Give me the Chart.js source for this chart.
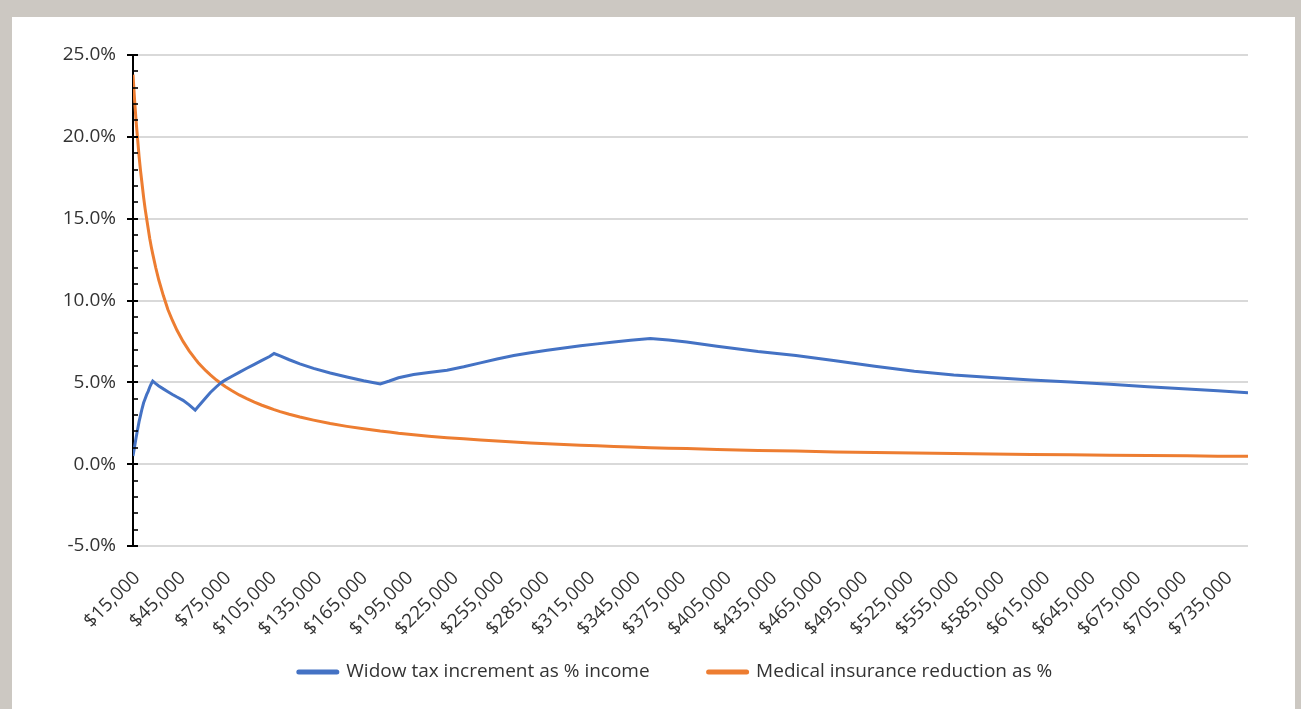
<!DOCTYPE html>
<html>
<head>
<meta charset="utf-8">
<script src="https://cdn.jsdelivr.net/npm/chart.js@4.4.1/dist/chart.umd.min.js"></script>
<style>
  html, body { margin: 0; padding: 0; background: #ccc8c2; width: 1301px; height: 709px; overflow: hidden; }
  #panel { position: absolute; left: 12px; top: 17px; width: 1283px; height: 692px; background: #ffffff; }
  #wrap { position: absolute; left: 0; top: 0; width: 1301px; height: 709px; }
</style>
</head>
<body>
<div id="panel"></div>
<div id="wrap"><canvas id="c" width="1301" height="709"></canvas></div>
<script>
// Income levels (x values, $)
const incomes = [15000,16000,17000,18000,19000,20000,21000,22000,23000,24000,25000,26000,27000,28000,
  30000,32000,35000,38000,41000,44000,48000,52000,56000,58000,60000,63000,66000,70000,73000,76000,80000,85000,90000,95000,100000,105000,108000,
  112000,118000,125000,134000,145000,156000,167000,178000,
  184000,190000,200000,210000,222000,233000,244000,255000,266000,277000,288000,299000,310000,321000,332000,343000,356000,
  368000,380000,400000,427000,452000,478000,504000,530000,556000,581000,607000,633000,659000,684000,710000,730000,750000];

// Widow tax increment as % income
const widowTaxPct = [0.5,1.05,1.6,2.1,2.6,3.0,3.4,3.75,4.0,4.25,4.45,4.7,4.9,5.08,
  4.92,4.78,4.6,4.43,4.26,4.1,3.9,3.62,3.3,3.52,3.74,4.06,4.38,4.73,4.98,5.15,5.36,5.61,5.86,6.1,6.34,6.58,6.76,
  6.62,6.38,6.13,5.85,5.57,5.33,5.1,4.9,
  5.08,5.28,5.48,5.6,5.74,5.95,6.19,6.43,6.64,6.81,6.96,7.1,7.23,7.35,7.47,7.57,7.68,
  7.58,7.46,7.2,6.88,6.64,6.32,5.98,5.68,5.45,5.3,5.14,5.02,4.88,4.73,4.6,4.48,4.36];

// Medical insurance reduction as %
const medicalPct = [23.8,22.3,21.0,19.9,18.8,17.9,17.1,16.3,15.6,15.0,14.4,13.8,13.3,12.85,
  12.0,11.25,10.3,9.45,8.78,8.18,7.5,6.92,6.43,6.2,6.0,5.71,5.45,5.14,4.93,4.73,4.5,4.23,4.0,3.79,3.6,3.43,3.33,
  3.21,3.05,2.88,2.69,2.48,2.31,2.16,2.02,
  1.96,1.89,1.8,1.71,1.62,1.55,1.48,1.41,1.35,1.3,1.25,1.2,1.16,1.12,1.08,1.05,1.01,
  0.98,0.95,0.9,0.84,0.8,0.75,0.71,0.68,0.65,0.62,0.59,0.57,0.55,0.53,0.51,0.49,0.48];

// X-axis tick labels ($)
const xTickValues = [15000,45000,75000,105000,135000,165000,195000,225000,255000,285000,315000,345000,375000,
  405000,435000,465000,495000,525000,555000,585000,615000,645000,675000,705000,735000];

const seriesNames = ['Widow tax increment as % income', 'Medical insurance reduction as %'];

const FONT = "'Open Sans', 'DejaVu Sans', sans-serif";
const TEXT = '#333333';

// y-axis tick marks (major crossing the axis, minor inside)
const axisTicks = {
  id: 'axisTicks',
  afterDraw(chart) {
    const y = chart.scales.y;
    const ctx = chart.ctx;
    const x0 = y.right;
    ctx.save();
    ctx.strokeStyle = '#000';
    for (let v = -5; v <= 25; v += 1) {
      const py = Math.round(y.getPixelForValue(v));
      ctx.beginPath();
      if (v % 5 === 0) { ctx.lineWidth = 2; ctx.moveTo(x0 - 6, py); ctx.lineTo(x0 + 5, py); }
      else { ctx.lineWidth = 1.6; ctx.moveTo(x0, py); ctx.lineTo(x0 + 5, py); }
      ctx.stroke();
    }
    ctx.restore();
  }
};

// legend placement
const legendPlace = {
  id: 'legendPlace',
  beforeLayout(chart) {
    const lg = chart.legend;
    if (lg && !lg._patched) {
      lg._patched = true;
      const origFit = lg.fit;
      lg.fit = function () { origFit.call(this); this.height = 63; };
    }
  },
  afterLayout(chart) {
    const lg = chart.legend;
    if (!lg) return;
    const pad = lg.options.labels.padding;
    lg.left = 103;
    lg.right = 1248;
    lg.top = 672 - 9.5 - pad;
  }
};

new Chart(document.getElementById('c'), {
  type: 'line',
  data: {
    datasets: [
      { label: seriesNames[0], data: incomes.map((x, i) => ({x, y: widowTaxPct[i]})),
        borderColor: '#4472C4', backgroundColor: '#4472C4', borderWidth: 3, pointRadius: 0, tension: 0, fill: false },
      { label: seriesNames[1], data: incomes.map((x, i) => ({x, y: medicalPct[i]})),
        borderColor: '#ED7D31', backgroundColor: '#ED7D31', borderWidth: 3, pointRadius: 0, tension: 0, fill: false }
    ]
  },
  options: {
    responsive: false,
    animation: false,
    devicePixelRatio: 1,
    layout: { padding: { left: 40, right: 53, top: 55, bottom: 0 } },
    plugins: {
      tooltip: { enabled: false },
      legend: {
        position: 'bottom',
        labels: {
          usePointStyle: true,
          pointStyle: 'line',
          pointStyleWidth: 38,
          padding: 59,
          color: TEXT,
          font: { family: FONT, size: 19 },
          generateLabels(chart) {
            const items = Chart.defaults.plugins.legend.labels.generateLabels(chart);
            items.forEach(it => { it.lineWidth = 5; it.lineCap = 'round'; it.pointStyle = 'line'; });
            return items;
          }
        }
      }
    },
    scales: {
      x: {
        type: 'linear',
        min: 15000,
        max: 750000,
        grid: { display: false, drawTicks: false },
        border: { display: false },
        ticks: {
          autoSkip: false,
          minRotation: 45,
          maxRotation: 45,
          padding: 21,
          labelOffset: 4,
          color: TEXT,
          font: { family: FONT, size: 19 },
          callback: (v) => '$' + Number(v).toLocaleString('en-US')
        },
        afterBuildTicks(scale) { scale.ticks = xTickValues.map(v => ({ value: v })); },
        afterFit(scale) { scale.height = 100; scale.paddingLeft = 0; scale.paddingRight = 0; }
      },
      y: {
        min: -5,
        max: 25,
        ticks: {
          stepSize: 5,
          padding: 17,
          color: TEXT,
          font: { family: FONT, size: 19 },
          callback: (v) => v.toFixed(1) + '%'
        },
        grid: { color: '#d9d9d9', lineWidth: 2, drawTicks: false },
        border: { display: true, color: '#000', width: 2 },
        afterFit(scale) { scale.width = 93; scale.paddingTop = 0; scale.paddingBottom = 0; }
      }
    }
  },
  plugins: [axisTicks, legendPlace]
});
</script>
</body>
</html>
